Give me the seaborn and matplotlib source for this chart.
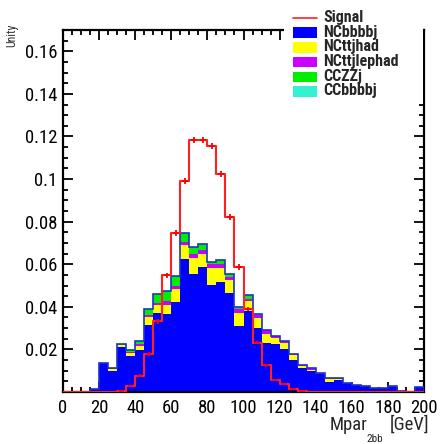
import numpy as np
import pandas as pd
import matplotlib
matplotlib.use("Agg")
import matplotlib.pyplot as plt
from matplotlib import font_manager
from matplotlib.patches import Rectangle
from matplotlib.lines import Line2D
from matplotlib.ticker import FixedLocator, FixedFormatter, MultipleLocator
import seaborn as sns

# ---------------- data ----------------
bin_width = 5
x_min, x_max = 0, 200

nc_bbbbj = [0, 0, 0, 0.0013, 0.0135, 0.0100, 0.0210, 0.0169, 0.0196, 0.0313,
            0.0371, 0.0365, 0.0421, 0.0623, 0.0553, 0.0586, 0.0503, 0.0518, 0.0463, 0.0308,
            0.0379, 0.0302, 0.0230, 0.0227, 0.0204, 0.0149, 0.0113, 0.0099, 0.0086, 0.0047,
            0.0058, 0.0044, 0.0031, 0.0027, 0.0020, 0.0017, 0.0022, 0.0003, 0.0001, 0.0023]
nc_ttjhad = [0, 0, 0, 0, 0, 0.0010, 0.0012, 0.0012, 0.0019, 0.0039,
             0.0039, 0.0045, 0.0064, 0.0069, 0.0077, 0.0064, 0.0081, 0.0066, 0.0061, 0.0063,
             0.0050, 0.0045, 0.0044, 0.0028, 0.0027, 0.0023, 0.0008, 0.0006, 0, 0.0016,
             0.0005, 0, 0, 0, 0, 0, 0, 0, 0, 0]
nc_ttjlephad = [0, 0, 0, 0, 0, 0.0002, 0, 0.0005, 0.0009, 0.0008,
                0.0008, 0.0016, 0.0013, 0.0013, 0.0020, 0.0016, 0.0016, 0.0019, 0.0016, 0.0019,
                0.0009, 0.0016, 0.0016, 0.0006, 0.0007, 0.0008, 0.0007, 0.0008, 0.0003, 0.0003,
                0.0004, 0, 0.0003, 0.0003, 0, 0, 0.0005, 0.0002, 0.0001, 0]
cc_zzj = [0, 0, 0, 0, 0, 0.0002, 0.0005, 0.0010, 0.0017, 0.0030,
          0.0041, 0.0048, 0.0048, 0.0043, 0.0031, 0.0028, 0.0009, 0.0015, 0.0014, 0.0009,
          0.0016, 0.0002, 0, 0, 0, 0, 0, 0, 0, 0,
          0, 0, 0, 0, 0, 0, 0, 0, 0, 0]
cc_bbbbj = [0] * 40

signal = [0, 0, 0, 0, 0, 0, 0.0005, 0.0030, 0.0077, 0.0177,
          0.0333, 0.0548, 0.0748, 0.0990, 0.1185, 0.1185, 0.1155, 0.1022, 0.0822, 0.0587,
          0.0391, 0.0232, 0.0125, 0.0058, 0.0036, 0.0016, 0.0003, 0, 0, 0,
          0, 0, 0, 0, 0, 0, 0, 0, 0, 0]
signal_err = [0, 0, 0, 0, 0, 0, 0.0002, 0.0004, 0.0007, 0.0010,
              0.0012, 0.0013, 0.0014, 0.0014, 0.0014, 0.0014, 0.0014, 0.0014, 0.0013, 0.0012,
              0.0010, 0.0008, 0.0006, 0.0004, 0.0003, 0.0002, 0.0001, 0, 0, 0,
              0, 0, 0, 0, 0, 0, 0, 0, 0, 0]

legend_labels = ["Signal", "NCbbbbj", "NCttjhad", "NCttjlephad", "CCZZj", "CCbbbbj"]
bkg_names = ["NCbbbbj", "NCttjhad", "NCttjlephad", "CCZZj", "CCbbbbj"]
bkg_colors = ["#0000ff", "#ffff00", "#cc00ff", "#00ee00", "#33f2d2"]
bkg_values = [nc_bbbbj, nc_ttjhad, nc_ttjlephad, cc_zzj, cc_bbbbj]

x_ticks = [0, 20, 40, 60, 80, 100, 120, 140, 160, 180, 200]
x_ticklabels = ["0", "20", "40", "60", "80", "100", "120", "140", "160", "180", "200"]
y_ticks = [0.02, 0.04, 0.06, 0.08, 0.10, 0.12, 0.14, 0.16]
y_ticklabels = ["0.02", "0.04", "0.06", "0.08", "0.1", "0.12", "0.14", "0.16"]
y_max = 0.17

# ---------------- fonts (prefer a narrow Helvetica-like face) ----------------
sns.set_style("ticks")
names = {f.name for f in font_manager.fontManager.ttflist}
family, stretch, narrow_found = "Liberation Sans", "normal", False
for cand in ["Liberation Sans Narrow", "Arial Narrow", "Nimbus Sans Narrow",
             "Roboto Condensed", "Noto Sans Condensed", "Open Sans Condensed"]:
    if cand in names:
        family, narrow_found = cand, True
        break
if not narrow_found:
    for f in font_manager.fontManager.ttflist:
        st = str(f.stretch)
        if st in ("condensed", "semi-condensed", "500", "600") or (st.isdigit() and int(st) < 500):
            if f.name in ("Liberation Sans", "Noto Sans", "Roboto", "Open Sans", "DejaVu Sans"):
                family, stretch, narrow_found = f.name, f.stretch, True
                break
plt.rcParams["font.family"] = [family, "DejaVu Sans"]
plt.rcParams["font.stretch"] = stretch
k = 1.0 if narrow_found else 0.9   # shrink wide fallback a bit

W, H = 440, 444
fig = plt.figure(figsize=(W / 100, H / 100), dpi=100)
L, R, T, B = 63, 424, 30, 392
ax = fig.add_axes([L / W, 1 - B / H, (R - L) / W, (B - T) / H])

edges = [float(e) for e in np.arange(x_min, x_max + bin_width, bin_width)]
centers = np.array(edges[:-1]) + bin_width / 2

rows = []
for name, vals in zip(bkg_names, bkg_values):
    for c, v in zip(centers, vals):
        rows.append({"x": float(c), "w": float(v), "sample": name})
df = pd.DataFrame(rows)

# seaborn stacks the first hue level on top -> reverse order
hue_order = bkg_names[::-1]
pal = dict(zip(bkg_names, bkg_colors))
sns.histplot(data=df, x="x", weights="w", hue="sample", hue_order=hue_order,
             palette=pal, multiple="stack", bins=edges, element="step",
             fill=True, alpha=1, linewidth=0, legend=False, ax=ax)

total = np.sum(np.array(bkg_values), axis=0)
ax.stairs(total, edges, color="#1a35c8", linewidth=1.2, zorder=3)

sig_df = pd.DataFrame({"x": centers, "w": signal})
sns.histplot(data=sig_df, x="x", weights="w", bins=edges, element="step", fill=False,
             color="#ff2020", linewidth=1.5, ax=ax, zorder=4)
sig = np.array(signal)
err = np.array(signal_err)
m = sig > 0
ax.errorbar(centers[m], sig[m], yerr=err[m], xerr=1.5, fmt="none",
            ecolor="#ff0000", elinewidth=1.3, capsize=0, zorder=5)

ax.set_xlim(x_min, x_max)
ax.set_ylim(0, y_max)
ax.set_xlabel("")
ax.set_ylabel("")

ax.xaxis.set_major_locator(FixedLocator(x_ticks))
ax.xaxis.set_major_formatter(FixedFormatter(x_ticklabels))
ax.xaxis.set_minor_locator(MultipleLocator(5))
ax.yaxis.set_major_locator(FixedLocator(y_ticks))
ax.yaxis.set_major_formatter(FixedFormatter(y_ticklabels))
ax.yaxis.set_minor_locator(MultipleLocator(0.005))

for s in ax.spines.values():
    s.set_visible(True)
    s.set_linewidth(1.6)
    s.set_color("black")
ax.tick_params(which="both", direction="in", top=True, right=True,
               width=1.3, colors="black", labelsize=13.4 * k)
ax.tick_params(which="major", length=7)
ax.tick_params(which="minor", length=3.5)
ax.tick_params(axis="x", which="major", pad=5)
ax.tick_params(axis="y", which="major", pad=4)
ax.grid(False)

# white box behind the legend (covers top frame, as in the reference)
fig.patches.append(Rectangle((284 / W, 1 - 104 / H), (422.5 - 284) / W, 104 / H,
                             transform=fig.transFigure, facecolor="white",
                             edgecolor="none", zorder=2))

# legend entries
row_c = [18, 32.7, 47.4, 62.1, 76.8, 91.5]
for i, lab in enumerate(legend_labels):
    c = row_c[i]
    if i == 0:
        fig.add_artist(Line2D([293 / W, 317 / W], [1 - c / H, 1 - c / H],
                              transform=fig.transFigure, color="#ff2020",
                              linewidth=1.2, zorder=3))
    else:
        fig.patches.append(Rectangle((293 / W, 1 - (c + 5.2) / H), 24 / W, 10.4 / H,
                                     transform=fig.transFigure,
                                     facecolor=bkg_colors[i - 1], edgecolor="none",
                                     zorder=3))
    fig.text(323 / W, 1 - (c + 3.8) / H, lab, fontsize=11.5 * k, fontweight="bold",
             ha="left", va="baseline", zorder=4)

# axis titles
fig.text(367 / W, 1 - 430 / H, "Mpar", fontsize=13.4 * k, ha="right", va="baseline")
fig.text(366 / W, 1 - 442 / H, "2bb", fontsize=8, ha="left", va="baseline")
fig.text(429 / W, 1 - 430 / H, "[GeV]", fontsize=13.4 * k, ha="right", va="baseline")
fig.text(12 / W, 1 - 24 / H, "Unity", fontsize=8.5, rotation=90, ha="center",
         va="top", color="#333333")

fig.savefig("out.png", dpi=100)
